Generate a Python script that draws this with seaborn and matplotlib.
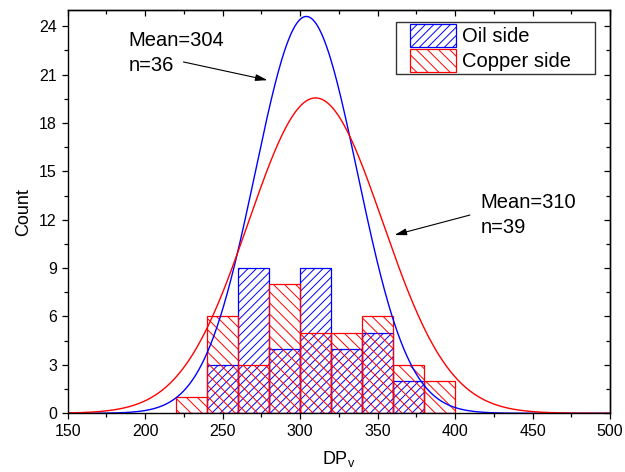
import numpy as np
import matplotlib
matplotlib.use("Agg")
import matplotlib.pyplot as plt
import matplotlib.patches as mpatches
from matplotlib.legend_handler import HandlerPatch
from matplotlib.ticker import MultipleLocator
import seaborn as sns

# Histogram bins (width 20)
bin_edges = [220, 240, 260, 280, 300, 320, 340, 360, 380, 400]
bin_centers = [230, 250, 270, 290, 310, 330, 350, 370, 390]

# Counts per bin
oil_counts = [0, 3, 9, 4, 9, 4, 5, 2, 0]
copper_counts = [1, 6, 3, 8, 5, 5, 6, 3, 2]

# Fitted normal curves: mean, standard deviation, peak height
oil_mean, oil_sd, oil_peak = 304, 33.0, 24.6
copper_mean, copper_sd, copper_peak = 310, 43.3, 19.55

oil_n = 36
copper_n = 39

series_labels = ["Oil side", "Copper side"]
oil_color = "#0000FF"
copper_color = "#FF0000"
oil_hatch = "////"
copper_hatch = "\\\\\\"

sns.set_style("ticks")
plt.rcParams["font.family"] = ["Liberation Sans", "DejaVu Sans"]
plt.rcParams["mathtext.fontset"] = "custom"
plt.rcParams["mathtext.rm"] = "Liberation Sans"
plt.rcParams["hatch.linewidth"] = 0.7
plt.rcParams["axes.linewidth"] = 1.0
plt.rcParams["text.color"] = "black"
plt.rcParams["axes.labelcolor"] = "black"
plt.rcParams["xtick.color"] = "black"
plt.rcParams["ytick.color"] = "black"

fig = plt.figure(figsize=(6.25, 4.72), dpi=100)
ax = fig.add_axes([0.1083, 0.1244, 0.8677, 0.8544])

# Histograms
before = len(ax.patches)
sns.histplot(x=bin_centers, weights=oil_counts, bins=bin_edges, fill=False,
             color=oil_color, linewidth=0.9, ax=ax)
for p in ax.patches[before:]:
    p.set_edgecolor(oil_color)
    p.set_hatch(oil_hatch)

before = len(ax.patches)
sns.histplot(x=bin_centers, weights=copper_counts, bins=bin_edges, fill=False,
             color=copper_color, linewidth=0.9, ax=ax)
for p in ax.patches[before:]:
    p.set_edgecolor(copper_color)
    p.set_hatch(copper_hatch)

# Normal curves
grid = np.linspace(150, 500, 701)
oil_curve = oil_peak * np.exp(-0.5 * ((grid - oil_mean) / oil_sd) ** 2)
copper_curve = copper_peak * np.exp(-0.5 * ((grid - copper_mean) / copper_sd) ** 2)
sns.lineplot(x=grid, y=oil_curve, color=oil_color, linewidth=1.0,
             estimator=None, ax=ax)
sns.lineplot(x=grid, y=copper_curve, color=copper_color, linewidth=1.0,
             estimator=None, ax=ax)

ax.set_xlim(150, 500)
ax.set_ylim(0, 25)
ax.xaxis.set_major_locator(MultipleLocator(50))
ax.xaxis.set_minor_locator(MultipleLocator(25))
ax.yaxis.set_major_locator(MultipleLocator(3))
ax.yaxis.set_minor_locator(MultipleLocator(1.5))
ax.tick_params(which="major", direction="out", length=4.3, width=0.9,
               labelsize=11.5, colors="black")
ax.tick_params(which="minor", direction="out", length=2.6, width=0.9)
for s in ax.spines.values():
    s.set_color("black")
    s.set_linewidth(1.0)

# Mirrored inward ticks on top and right
top = ax.secondary_xaxis("top")
top.xaxis.set_major_locator(MultipleLocator(50))
top.xaxis.set_minor_locator(MultipleLocator(25))
top.tick_params(which="major", direction="in", length=4.3, width=0.9, labeltop=False)
top.tick_params(which="minor", direction="in", length=2.6, width=0.9)
right = ax.secondary_yaxis("right")
right.yaxis.set_major_locator(MultipleLocator(3))
right.yaxis.set_minor_locator(MultipleLocator(1.5))
right.tick_params(which="major", direction="in", length=4.3, width=0.9, labelright=False)
right.tick_params(which="minor", direction="in", length=2.6, width=0.9)

ax.set_xlabel(r"DP$_\mathregular{v}$", fontsize=13, labelpad=7)
ax.set_ylabel("Count", fontsize=13, labelpad=5)

# Annotations
arrow_kw = dict(arrowstyle="-|>,head_length=0.72,head_width=0.2", color="black",
                lw=0.8, shrinkA=0, shrinkB=0, mutation_scale=10)
ax.text(189.2, 22.76, f"Mean={oil_mean}", fontsize=14.5, ha="left", va="baseline")
ax.text(189.2, 21.23, f"n={oil_n}", fontsize=14.5, ha="left", va="baseline")
ax.annotate("", xy=(279, 20.65), xytext=(224.7, 21.78), arrowprops=arrow_kw)
ax.text(416.5, 12.70, f"Mean={copper_mean}", fontsize=14.5, ha="left", va="baseline")
ax.text(416.5, 11.17, f"n={copper_n}", fontsize=14.5, ha="left", va="baseline")
ax.annotate("", xy=(360.9, 11.05), xytext=(409.6, 12.29), arrowprops=arrow_kw)

# Legend
handles = [
    mpatches.Patch(facecolor="none", edgecolor=oil_color, hatch=oil_hatch,
                   linewidth=0.9, label=series_labels[0]),
    mpatches.Patch(facecolor="none", edgecolor=copper_color, hatch=copper_hatch,
                   linewidth=0.9, label=series_labels[1]),
]
leg = ax.legend(handles=handles, loc="upper left",
                bbox_to_anchor=(0.605, 0.839, 0.367, 0.132), mode="expand",
                borderaxespad=0, fontsize=14.5, frameon=True, fancybox=False,
                edgecolor="black", handlelength=2.85, handleheight=1.35,
                handletextpad=0.3, labelspacing=0.13, borderpad=0.12,
                handler_map={mpatches.Patch: HandlerPatch(xpad=0.6)})
leg.get_frame().set_linewidth(1.0)

fig.savefig("out.png", dpi=100)
